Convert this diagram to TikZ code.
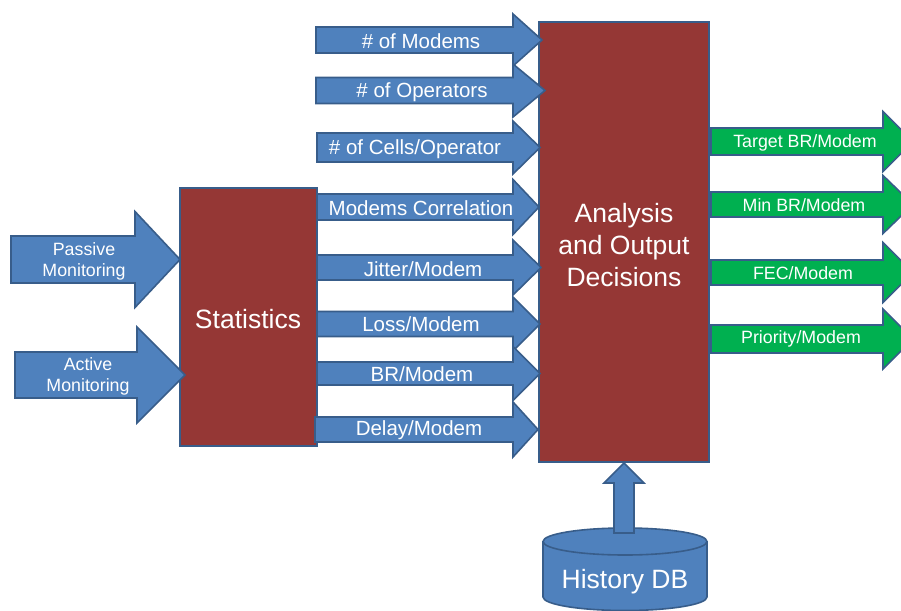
\documentclass[tikz,border=0pt]{standalone}
\usepackage{fontspec}
\setmainfont{Liberation Sans}
\usetikzlibrary{calc}

\definecolor{boxblue}{HTML}{4F81BD}
\definecolor{edgeblue}{HTML}{385D8A}
\definecolor{boxred}{HTML}{953735}
\definecolor{boxgreen}{HTML}{00B050}

\tikzset{
  shape line/.style={draw=edgeblue, line width=1.6pt, line join=miter},
  bigbox/.style={shape line, fill=boxred},
  bigtext/.style={text=white, font=\fontsize{26.5}{32}\selectfont, align=center, inner sep=0pt, yshift=-1.5pt},
  inlabel/.style={text=white, font=\fontsize{20.5}{24}\selectfont, inner sep=0pt, yshift=-1.5pt},
  outlabel/.style={text=white, font=\fontsize{17.8}{21}\selectfont, inner sep=0pt, yshift=-1pt},
  srclabel/.style={text=white, font=\fontsize{17.8}{21}\selectfont, align=center, inner sep=0pt},
}

% block arrow pointing right: #1 start x, #2 head base x, #3 tip x,
% #4 centre y, #5 shaft half height, #6 head half height, #7 fill
\newcommand\rightblock[7]{%
  \draw[shape line, fill=#7]
    (#1,#4-#5) -- (#2,#4-#5) -- (#2,#4-#6) -- (#3,#4) --
    (#2,#4+#6) -- (#2,#4+#5) -- (#1,#4+#5) -- cycle;}

\begin{document}
\begin{tikzpicture}[x=1pt, y=-1pt]
  \useasboundingbox (0,0) rectangle (901,610);
  \clip (0,0) rectangle (901,610);

  % processing blocks
  \draw[bigbox] (180,188) rectangle (317,446);
  \node[bigtext] (stats) at (248,318) {Statistics};
  \draw[bigbox] (539,22) rectangle (709,462);
  \node[bigtext] (analysis) at (624,244) {Analysis\\and Output\\Decisions};

  % monitoring inputs
  \rightblock{11}{135}{180}{259.5}{23.5}{48}{boxblue}
  \node[srclabel] (passive) at (84,261) {Passive\\Monitoring};
  \rightblock{15}{137}{185}{375}{23}{48}{boxblue}
  \node[srclabel] (active) at (88,376) {Active\\Monitoring};

  % inputs to the analysis block
  \rightblock{316}{513}{542}{40}{13}{26}{boxblue}
  \node[inlabel] (modems) at (421,40) {\# of Modems};
  \rightblock{316}{513}{545}{90.5}{13}{26.5}{boxblue}
  \node[inlabel] (operators) at (422,91) {\# of Operators};
  \rightblock{317}{513}{540}{147.5}{14.5}{26.5}{boxblue}
  \node[inlabel] (cells) at (415,148) {\# of Cells/Operator};
  \rightblock{317}{513}{539}{207}{13}{27.5}{boxblue}
  \node[inlabel] (corr) at (421,207) {Modems Correlation};
  \rightblock{317}{513}{541}{267.5}{12.5}{27.5}{boxblue}
  \node[inlabel] (jitter) at (423,268) {Jitter/Modem};
  \rightblock{317}{513}{540}{324}{12.5}{27}{boxblue}
  \node[inlabel] (loss) at (421,323) {Loss/Modem};
  \rightblock{317}{513}{540}{373.5}{11.5}{27}{boxblue}
  \node[inlabel] (br) at (422,373) {BR/Modem};
  \rightblock{315}{513}{538}{429.5}{12.5}{27.5}{boxblue}
  \node[inlabel] (delay) at (419,429) {Delay/Modem};

  % decisions
  \rightblock{711}{883}{913}{141.5}{13.5}{30}{boxgreen}
  \node[outlabel] (target) at (805,142) {Target BR/Modem};
  \rightblock{711}{883}{913}{204.5}{12.5}{29}{boxgreen}
  \node[outlabel] (minbr) at (804,204) {Min BR/Modem};
  \rightblock{711}{883}{913}{272.5}{12.5}{30}{boxgreen}
  \node[outlabel] (fec) at (803,272) {FEC/Modem};
  \rightblock{711}{883}{913}{339}{14}{30}{boxgreen}
  \node[outlabel] (prio) at (801,338) {Priority/Modem};

  % history database (y axis points down, so arcs through 90 bulge downwards)
  \draw[shape line, fill=boxblue]
    (543,541.5) -- (543,597) arc[start angle=180, end angle=0, x radius=82, y radius=13.5]
    -- (707,541.5) arc[start angle=0, end angle=-180, x radius=82, y radius=13.5] -- cycle;
  \draw[shape line] (543,541.5) arc[start angle=180, end angle=0, x radius=82, y radius=13.5];
  \node[bigtext] (history) at (625,580) {History DB};

  % feed from the database
  \draw[shape line, fill=boxblue]
    (614,533) -- (614,483) -- (604,483) -- (624,463) -- (644,483) -- (634,483) -- (634,533) -- cycle;
\end{tikzpicture}
\end{document}
